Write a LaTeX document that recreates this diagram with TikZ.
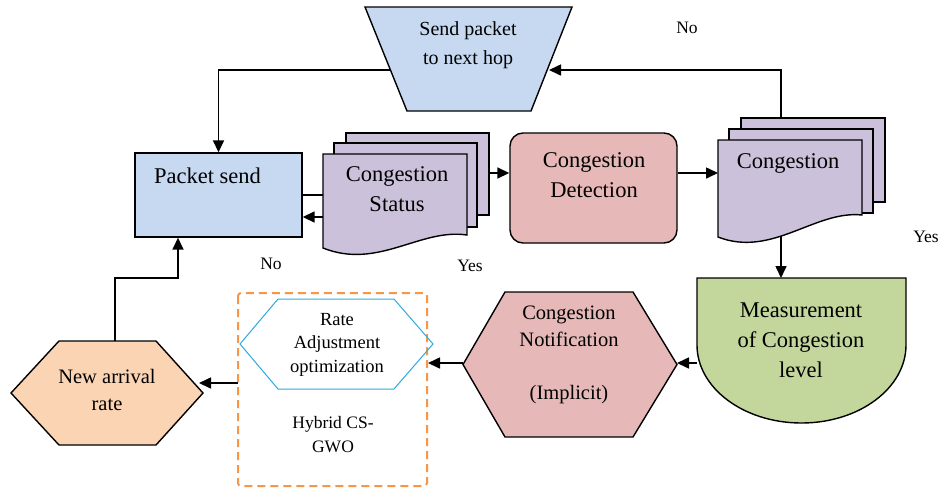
\documentclass[tikz,border=0pt]{standalone}
\usepackage{fontspec}
\setmainfont{Liberation Serif}
\usetikzlibrary{arrows.meta,backgrounds}
\definecolor{lblue}{HTML}{C6D9F1}
\definecolor{lpurple}{HTML}{CCC1DA}
\definecolor{lpink}{HTML}{E6B9B8}
\definecolor{lgreen}{HTML}{C3D69B}
\definecolor{lpeach}{HTML}{FBD4B4}
\definecolor{dorange}{HTML}{F79646}
\definecolor{hexblue}{HTML}{2DAAE1}
\begin{document}
\begin{tikzpicture}[x=1pt,y=-1pt,
  shapeline/.style={draw=black, line width=1.4pt, line join=miter},
  conn/.style={draw=black, line width=1.6pt},
  arr/.style={conn, -{Triangle[length=12pt,width=11pt]}},
  big/.style={inner sep=0pt, align=center, font=\fontsize{22.5}{30}\selectfont},
  spf/.style={inner sep=0pt, align=center, font=\fontsize{20}{29}\selectfont},
  mid/.style={inner sep=0pt, align=center, font=\fontsize{20.5}{26.5}\selectfont},
  naf/.style={inner sep=0pt, align=center, font=\fontsize{20.5}{27}\selectfont},
  small/.style={inner sep=0pt, align=center, font=\fontsize{18.5}{23.5}\selectfont},
  hyb/.style={inner sep=0pt, align=center, font=\fontsize{17.5}{24}\selectfont},
  lbl/.style={inner sep=0pt, font=\fontsize{17.5}{20}\selectfont},
]
\useasboundingbox (0,0) rectangle (943,491);

% ---------- shapes ----------
% Send packet to next hop (trapezoid)
\filldraw[shapeline, fill=lblue] (365,7) -- (572,7) -- (531,111) -- (407,111) -- cycle;
\coordinate (spL) at (390,70);
\coordinate (spR) at (549,70);

% Packet send
\node[shapeline, fill=lblue, minimum width=167pt, minimum height=84pt, inner sep=0pt] (ps) at (218.5,195) {};

% Congestion Status (multi document)
\filldraw[shapeline, fill=lpurple] (346,133) rectangle (489,215);
\filldraw[shapeline, fill=lpurple] (334,143) rectangle (477,227);
\filldraw[shapeline, fill=lpurple] (323,154) -- (467,154) -- (467,235) .. controls (420,228) and (378,270) .. (323,248) -- cycle;
\coordinate (csL1) at (323,195);
\coordinate (csL2) at (323,217);
\coordinate (csR) at (489,173);

% Congestion Detection
\node[shapeline, fill=lpink, rounded corners=13pt, minimum width=167pt, minimum height=110pt, inner sep=0pt] (det) at (593.5,188) {};

% Congestion (multi document)
\filldraw[shapeline, fill=lpurple] (741,118) rectangle (885,202);
\filldraw[shapeline, fill=lpurple] (729,129) rectangle (873,213);
\filldraw[shapeline, fill=lpurple] (718,140) -- (862,140) -- (862,215) .. controls (815,210) and (772,258) .. (718,237) -- cycle;
\coordinate (cgL) at (718,173);
\coordinate (cgT) at (781,118);
\coordinate (cgB) at (781,234);

% Measurement of Congestion level
\filldraw[shapeline, fill=lgreen] (697,278) -- (906,278) -- (906,345) .. controls (906,388) and (859.3,423) .. (801.5,423) .. controls (743.7,423) and (697,388) .. (697,345) -- cycle;
\coordinate (mT) at (781,278);
\coordinate (mL) at (697,363);

% Congestion Notification (hexagon)
\filldraw[shapeline, fill=lpink] (505,292) -- (633,292) -- (677,364.5) -- (633,437) -- (505,437) -- (463,364.5) -- cycle;
\coordinate (nR) at (677,363);
\coordinate (nL) at (463,363);

% Hybrid CS-GWO box
\draw[draw=dorange, line width=2pt, dash pattern=on 8pt off 5pt, rounded corners=3pt] (238,293) rectangle (427,486);
\draw[draw=hexblue, line width=1pt] (278,299) -- (394,299) -- (433,344) -- (394,389) -- (278,389) -- (240,344) -- cycle;
\coordinate (bR) at (428,363);
\coordinate (bL) at (238,383);

% New arrival rate (hexagon)
\filldraw[shapeline, fill=lpeach] (59,341) -- (156,341) -- (203,393) -- (156,445) -- (59,445) -- (11,393) -- cycle;
\coordinate (naR) at (199,383);
\coordinate (naT) at (115,341);

% ---------- texts ----------
\node[spf] (spt) at (468,45.5) {Send packet\\to next hop};
\node[big] (pst) at (207.5,176) {Packet send};
\node[big] (cst) at (397,189) {Congestion\\Status};
\node[big] (dett) at (594,175) {Congestion\\Detection};
\node[big] (cgt) at (788,163) {Congestion};
\node[big] (mt) at (801,340) {Measurement\\of Congestion\\level};
\node[mid] (nt) at (569,355) {Congestion\\Notification\\[26.5pt](Implicit)};
\node[small] (rt) at (337,344.5) {Rate\\Adjustment\\optimization};
\node[hyb] (ht) at (333,435) {Hybrid CS-\\GWO};
\node[naf] (nat) at (107,389.5) {New arrival\\rate};
\node[lbl] (no1) at (687,27.5) {No};
\node[lbl] (yes1) at (926,236.5) {Yes};
\node[lbl] (no2) at (271,264) {No};
\node[lbl] (yes2) at (470,265.5) {Yes};

% ---------- connectors ----------
\begin{scope}[on background layer]
\fill[white] (0,0) rectangle (943,491);
\draw[arr] (cgT) |- (spR);
\draw[arr] (spL) -| (ps.north);
\draw[conn] (ps.east) -- (csL1);
\draw[arr] (csL2) -- (ps.east |- csL2);
\draw[arr] (csR) -- (det.west |- csR);
\draw[arr] (det.east |- cgL) -- (cgL);
\draw[arr] (cgB) -- (mT);
\draw[arr] (mL) -- (nR);
\draw[arr] (nL) -- (bR);
\draw[arr] (bL) -- (naR);
\draw[arr] (naT) -- (115,278) -| ([xshift=-40.5pt]ps.south);
\end{scope}
\end{tikzpicture}
\end{document}
